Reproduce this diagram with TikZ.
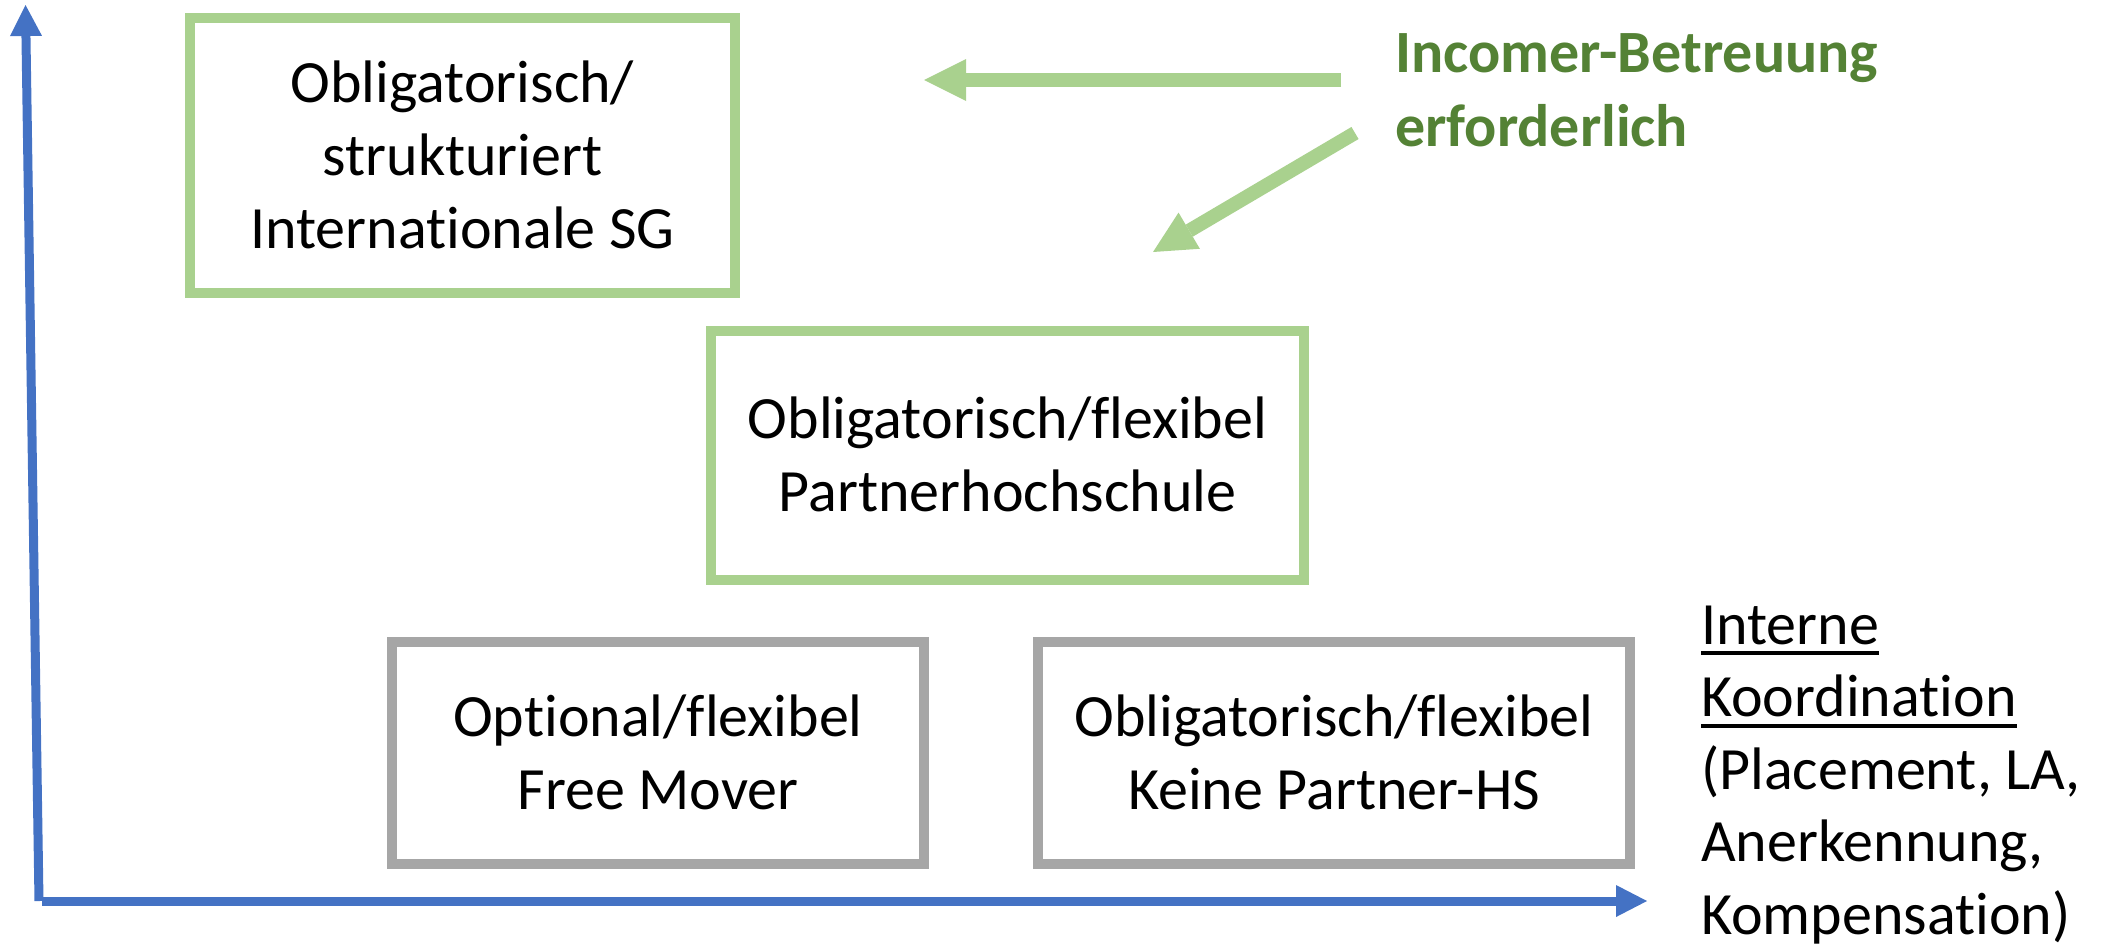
\documentclass[tikz,border=0pt]{standalone}
\usepackage{fontspec}
\setmainfont{Carlito}[Ligatures=NoCommon]
\usetikzlibrary{arrows.meta}
\definecolor{boxgreen}{HTML}{A9D18E}
\definecolor{txtgreen}{HTML}{548235}
\definecolor{boxgray}{HTML}{A6A6A6}
\definecolor{axisblue}{HTML}{4472C4}
\newcommand\myul[1]{\setbox0\hbox{#1}\rlap{\rule[-11pt]{\wd0}{4pt}}\box0}
\begin{document}
\begin{tikzpicture}[x=1pt,y=-1pt,
  box/.style={draw,line width=10pt,inner sep=0pt,align=center,
    font=\fontsize{60}{73}\selectfont,text depth=6pt},
  greenbox/.style={box,draw=boxgreen},
  graybox/.style={box,draw=boxgray},
  axis/.style={draw=axisblue,line width=9pt,-{Triangle[length=31pt,width=32pt,line width=0pt]}},
  garrow/.style={draw=boxgreen,line width=14pt,-{Triangle[length=42pt,width=42pt,line width=0pt]}},
]
\useasboundingbox (0,0) rectangle (2109,945);
\node[greenbox,minimum width=545pt,minimum height=275pt,text height=191pt] (sg) at (462.5,155.5)
  {Obligatorisch/\\strukturiert\\Internationale SG};
\node[greenbox,minimum width=593pt,minimum height=249pt,text height=118pt] (ph) at (1007.5,455.5)
  {Obligatorisch/flexibel\\Partnerhochschule};
\node[graybox,minimum width=532pt,minimum height=222pt,text height=118pt] (fm) at (658,753)
  {Optional/flexibel\\Free Mover};
\node[graybox,minimum width=592pt,minimum height=222pt,text height=118pt] (kp) at (1334,753)
  {Obligatorisch/flexibel\\Keine Partner-HS};
\node[anchor=base west,inner sep=0pt,align=left,text=txtgreen,
  font=\bfseries\fontsize{60}{74}\selectfont] (inc) at (1395,146)
  {Incomer-Betreuung\\erforderlich};
\node[anchor=base west,inner sep=0pt,align=left,
  font=\fontsize{60}{72.5}\selectfont] (ik) at (1701,934)
  {\myul{Interne}\\\myul{Koordination}\\(Placement, LA,\\Anerkennung,\\Kompensation)};
\coordinate (a1s) at (1341,80);
\coordinate (a1e) at (924,80);
\coordinate (a2s) at (1355,133);
\coordinate (a2e) at (1153,252);
\draw[garrow] (a1s) -- (a1e);
\draw[garrow] (a2s) -- (a2e);
\coordinate (o) at (39,901);
\coordinate (ytip) at (25.5,5);
\coordinate (ox) at (41.7,901);
\coordinate (xtip) at (1647,901);
\draw[axis] (o) -- (ytip);
\draw[axis] (ox) -- (xtip);
\end{tikzpicture}
\end{document}
